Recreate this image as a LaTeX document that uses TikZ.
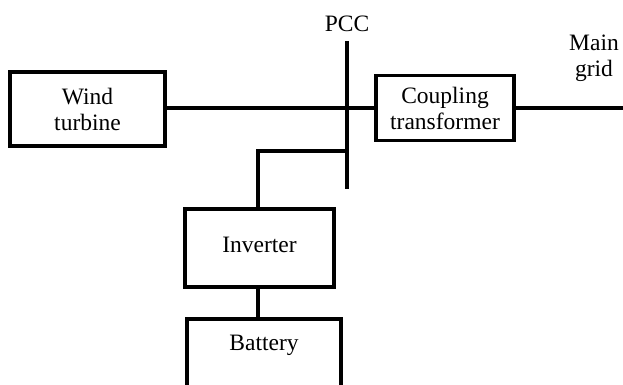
\documentclass[tikz,border=0pt]{standalone}
\usepackage{fontspec}
\setmainfont{Liberation Serif}
\begin{document}
\begin{tikzpicture}[x=1pt,y=-1pt,
  txt/.style={font=\fontsize{23.5}{26}\selectfont},
  blk/.style={draw=black, line width=3.8pt, inner sep=0pt, align=center, txt},
  wire/.style={draw=black, line width=3.6pt},
  lbl/.style={inner sep=0pt, align=center, txt}]
\useasboundingbox (0,0) rectangle (623,385);
\fill[white] (0,0) rectangle (623,385);
\begin{scope}
\clip (0,0) rectangle (623,385);
\node[blk, minimum width=155pt, minimum height=74pt] (wind) at (87.5,109) {Wind\\turbine};
\node[blk, minimum width=138pt, minimum height=65pt] (coup) at (445,108) {Coupling\\transformer};
\node[blk, minimum width=149pt, minimum height=78pt, text height=16pt, text depth=8pt] (inv) at (259.5,248) {Inverter};
\node[blk, minimum width=154pt, minimum height=84pt, anchor=north] (bat) at (264,317) {};
\node[lbl, anchor=base] (batl) at (264,350) {Battery};
\node[lbl, anchor=base] (pcc) at (347,32) {PCC};
\node[lbl, anchor=base] (grid) at (594,77) {Main\\grid};
\coordinate (pcctop) at (347,41);
\coordinate (pccbot) at (347,189);
\coordinate (tap) at (347,151);
\coordinate (br) at (258,151);
\coordinate (gridend) at (623,108);
\draw[wire] (pcctop) -- (pccbot);
\draw[wire] (wind.east |- coup.west) -- (coup.west);
\draw[wire] (coup.east) -- (gridend);
\draw[wire] (tap) -- (br) -- (inv.north -| br);
\draw[wire] (inv.south -| br) -- (bat.north -| br);
\end{scope}
\end{tikzpicture}
\end{document}
